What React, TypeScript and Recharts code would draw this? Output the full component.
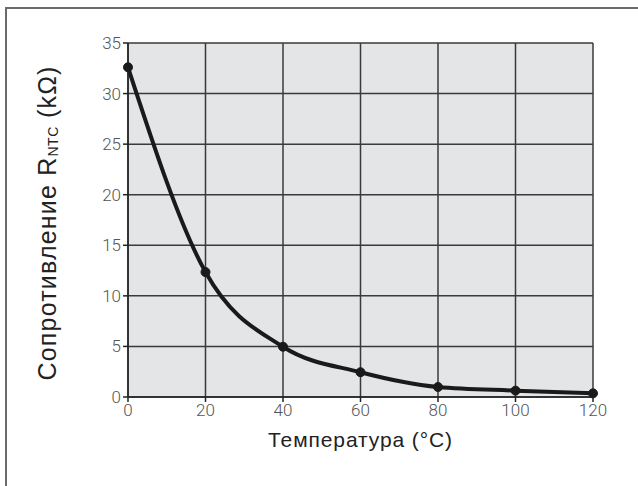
import React from "react";
import {
  LineChart,
  Line,
  XAxis,
  YAxis,
  CartesianGrid,
  Label,
} from "recharts";

const temperatures = [0, 20, 40, 60, 80, 100, 120];
const resistance = [32.6, 12.35, 4.97, 2.45, 0.99, 0.63, 0.36];
const xTicks = [0, 20, 40, 60, 80, 100, 120];
const yTicks = [0, 5, 10, 15, 20, 25, 30, 35];

const data = temperatures.map((t, i) => ({ t, r: resistance[i] }));

const tickStyle = {
  fontFamily: "Roboto",
  fontWeight: 300,
  fontSize: 17,
  fill: "#555",
};

function YTitle(props: any) {
  const vb = props.viewBox;
  const cx = vb.x - 21;
  const cy = vb.y + vb.height / 2 + 3;
  return (
    <text
      x={cx}
      y={cy}
      transform={`rotate(-90 ${cx} ${cy})`}
      textAnchor="middle"
      dominantBaseline="central"
      fontFamily="Liberation Sans"
      fontSize={25}
      letterSpacing={1.2}
      fill="#222"
    >
      Сопротивление R
      <tspan fontSize={14} dy={6} letterSpacing={0.5}>
        NTC
      </tspan>
      <tspan dy={-6}> (kΩ)</tspan>
    </text>
  );
}

export default function App() {
  return (
    <div
      style={{
        position: "absolute",
        left: 0,
        top: 0,
        width: 638,
        height: 486,
        background: "#fff",
      }}
    >
      <div
        style={{
          position: "absolute",
          left: 5,
          top: 7,
          right: 0,
          bottom: 0,
          borderTop: "2px solid #6a6a6a",
          borderLeft: "2px solid #6a6a6a",
        }}
      />
      <div style={{ position: "absolute", left: 0, top: 0 }}>
        <LineChart
          width={638}
          height={486}
          data={data}
          margin={{ top: 43, right: 45, bottom: 59, left: 68 }}
        >
          <CartesianGrid
            fill="#e4e5e7"
            stroke="#3a3a3a"
            strokeWidth={1.5}
            horizontalValues={yTicks}
            verticalValues={xTicks}
          />
          <XAxis
            dataKey="t"
            type="number"
            domain={[0, 120]}
            ticks={xTicks}
            stroke="#222"
            strokeWidth={1.5}
            tickSize={5}
            tick={tickStyle}
            height={30}
          >
            <Label
              value="Температура (°C)"
              position="insideBottom"
              offset={-20}
              style={{
                fontFamily: "Liberation Sans",
                fontSize: 21,
                letterSpacing: 0.9,
                fill: "#222",
              }}
            />
          </XAxis>
          <YAxis
            type="number"
            domain={[0, 35]}
            ticks={yTicks}
            stroke="#222"
            strokeWidth={1.5}
            tickSize={5}
            tick={tickStyle}
            width={60}
          >
            <Label content={YTitle} />
          </YAxis>
          <Line
            dataKey="r"
            type="monotone"
            stroke="#1a1a1a"
            strokeWidth={4}
            dot={{ r: 4.5, fill: "#1a1a1a", stroke: "#1a1a1a", strokeWidth: 1 }}
            isAnimationActive={false}
          />
        </LineChart>
      </div>
    </div>
  );
}
